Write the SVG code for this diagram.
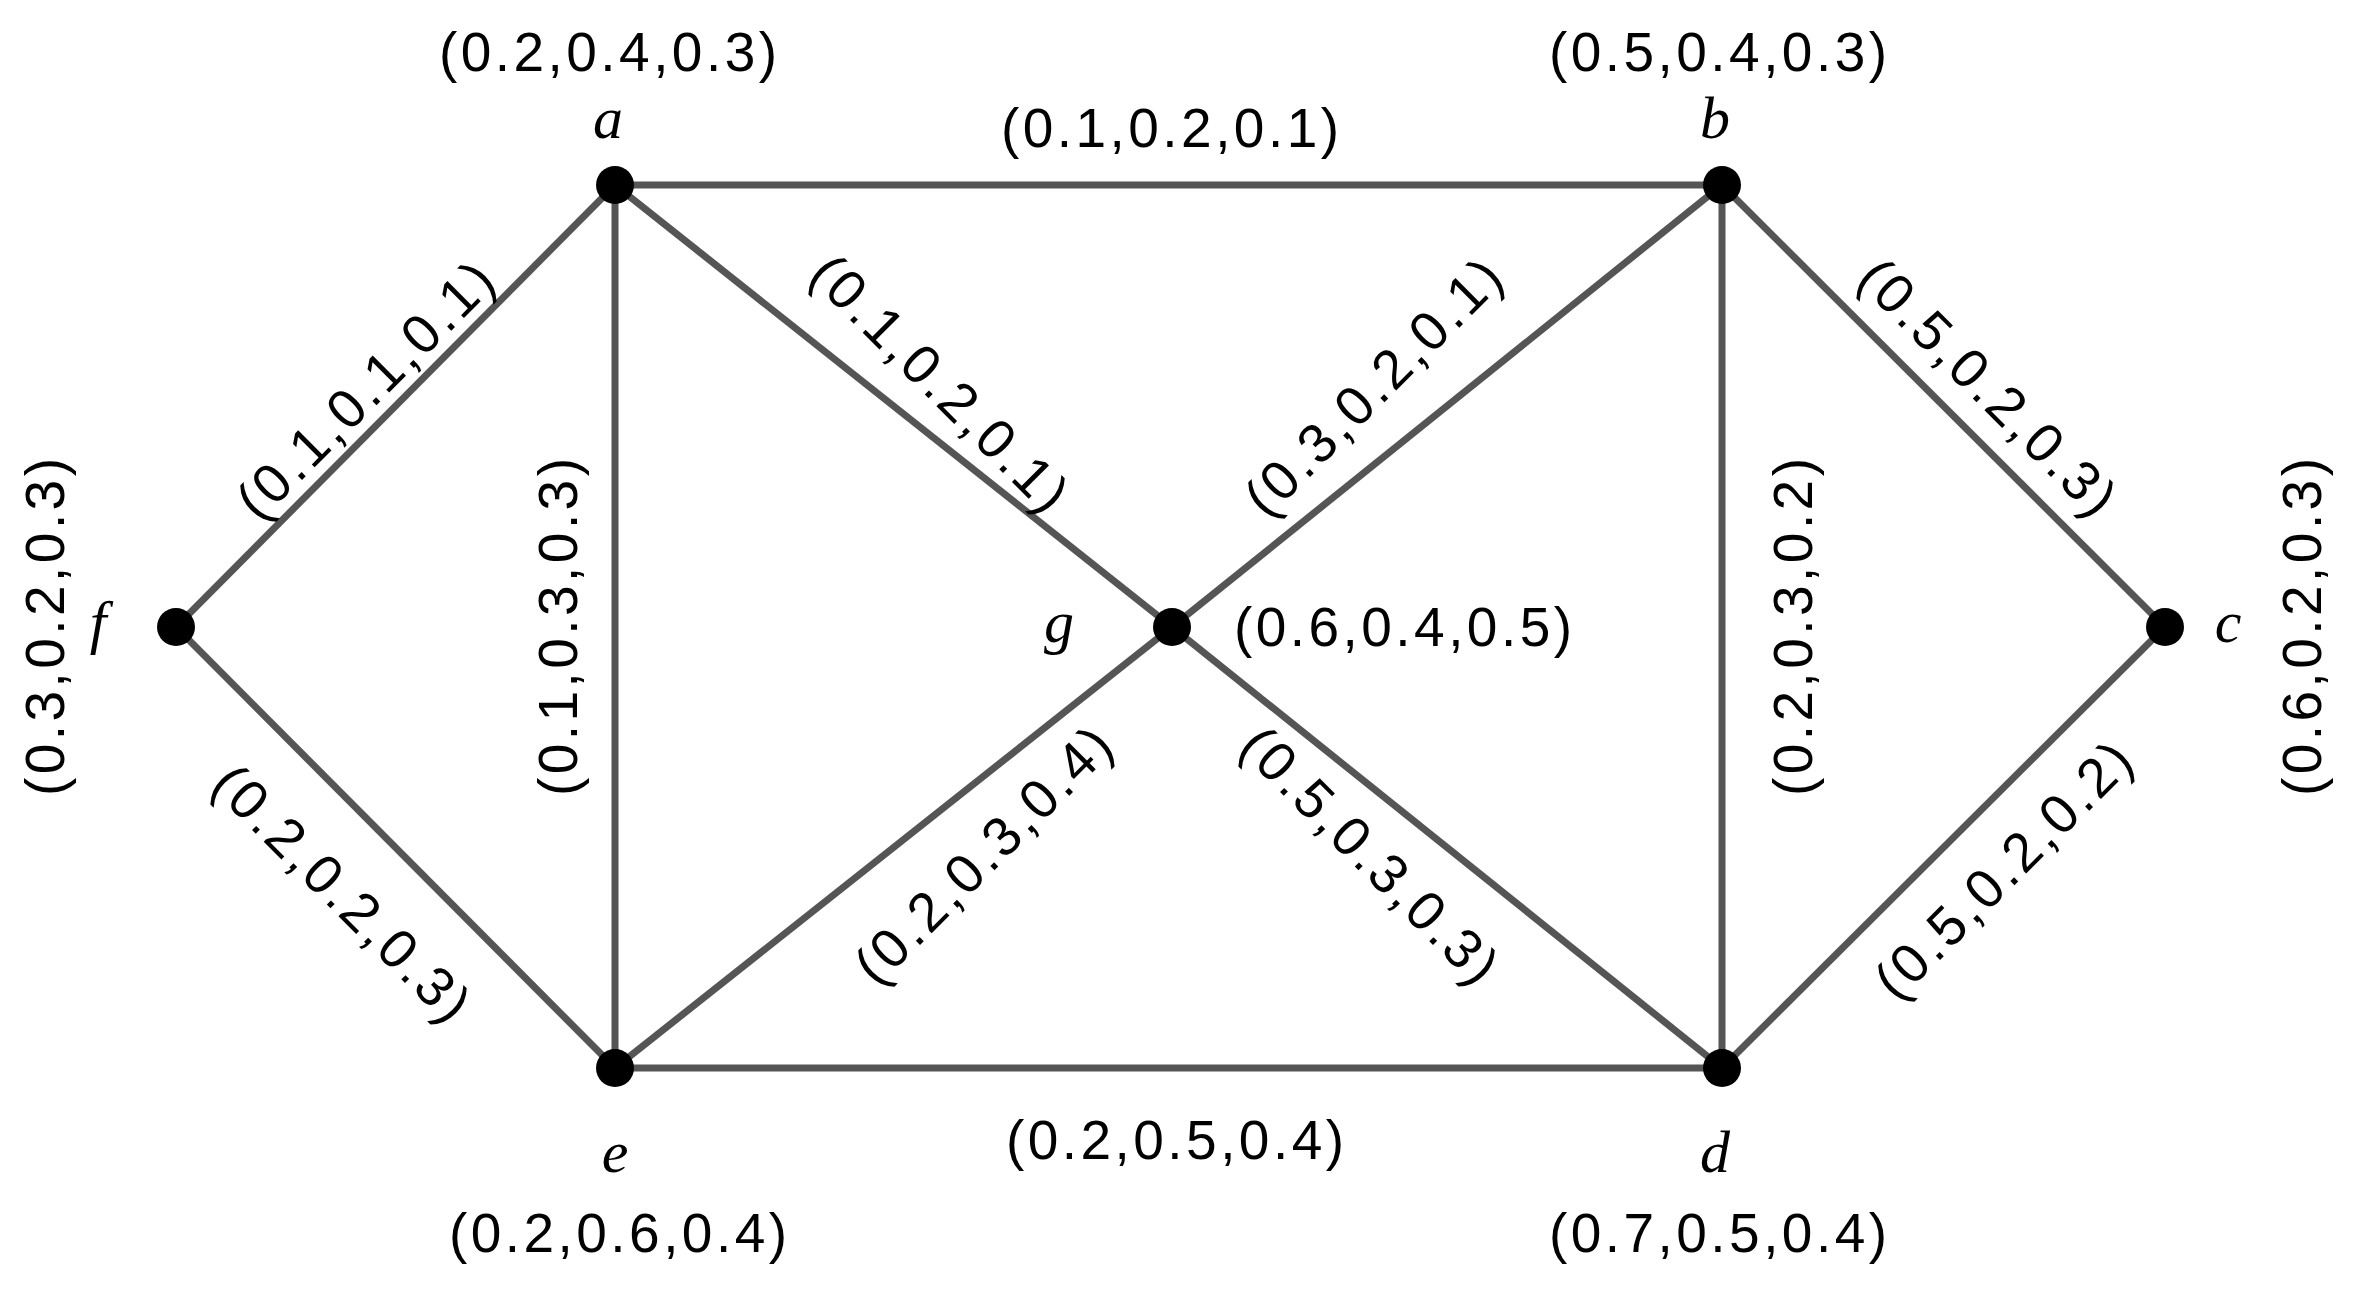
<svg xmlns="http://www.w3.org/2000/svg" width="2354" height="1292" viewBox="0 0 2354 1292">
<style>
.e{stroke:#555;stroke-width:7;fill:none}
.n{fill:#000}
.t{font-family:"Liberation Sans",Arial,sans-serif;font-size:55px;fill:#000;text-anchor:middle;dominant-baseline:central}
.v{font-family:"Liberation Serif","Times New Roman",serif;font-style:italic;font-size:60px;fill:#000;text-anchor:middle;dominant-baseline:central}
</style>
<rect width="2354" height="1292" fill="#fff"/>
<g id="edges">
<line class="e" x1="615" y1="185" x2="1722" y2="185"/>
<line class="e" x1="615" y1="185" x2="176" y2="627"/>
<line class="e" x1="176" y1="627" x2="615" y2="1068"/>
<line class="e" x1="615" y1="185" x2="615" y2="1068"/>
<line class="e" x1="615" y1="185" x2="1172" y2="627"/>
<line class="e" x1="1172" y1="627" x2="1722" y2="185"/>
<line class="e" x1="1172" y1="627" x2="615" y2="1068"/>
<line class="e" x1="1172" y1="627" x2="1722" y2="1068"/>
<line class="e" x1="1722" y1="185" x2="1722" y2="1068"/>
<line class="e" x1="1722" y1="185" x2="2165" y2="627"/>
<line class="e" x1="2165" y1="627" x2="1722" y2="1068"/>
<line class="e" x1="615" y1="1068" x2="1722" y2="1068"/>
<text class="t" x="1170" y="128" textLength="338">(0.1,0.2,0.1)</text>
<text class="t" transform="translate(365,390) rotate(-45)" textLength="338">(0.1,0.1,0.1)</text>
<text class="t" transform="translate(342,893) rotate(45)" textLength="338">(0.2,0.2,0.3)</text>
<text class="t" transform="translate(558,627) rotate(-90)" textLength="338">(0.1,0.3,0.3)</text>
<text class="t" transform="translate(940,383) rotate(45)" textLength="338">(0.1,0.2,0.1)</text>
<text class="t" transform="translate(1373,387) rotate(-45)" textLength="338">(0.3,0.2,0.1)</text>
<text class="t" transform="translate(983,855) rotate(-45)" textLength="338">(0.2,0.3,0.4)</text>
<text class="t" transform="translate(1370,855) rotate(45)" textLength="338">(0.5,0.3,0.3)</text>
<text class="t" transform="translate(1793,627) rotate(-90)" textLength="338">(0.2,0.3,0.2)</text>
<text class="t" transform="translate(1988,387) rotate(45)" textLength="338">(0.5,0.2,0.3)</text>
<text class="t" transform="translate(2003,870) rotate(-45)" textLength="338">(0.5,0.2,0.2)</text>
<text class="t" x="1175" y="1140" textLength="338">(0.2,0.5,0.4)</text>
</g>
<g id="a"><circle class="n" cx="615" cy="185" r="19"/><text class="v" x="608" y="118">a</text><text class="t" x="608" y="52" textLength="338">(0.2,0.4,0.3)</text></g>
<g id="b"><circle class="n" cx="1722" cy="185" r="19"/><text class="v" x="1715" y="118">b</text><text class="t" x="1718" y="52" textLength="338">(0.5,0.4,0.3)</text></g>
<g id="c"><circle class="n" cx="2165" cy="627" r="19"/><text class="v" x="2228" y="622">c</text><text class="t" transform="translate(2302,627) rotate(-90)" textLength="338">(0.6,0.2,0.3)</text></g>
<g id="d"><circle class="n" cx="1722" cy="1068" r="19"/><text class="v" x="1715" y="1152">d</text><text class="t" x="1718" y="1233" textLength="338">(0.7,0.5,0.4)</text></g>
<g id="e"><circle class="n" cx="615" cy="1068" r="19"/><text class="v" x="615" y="1152">e</text><text class="t" x="618" y="1233" textLength="338">(0.2,0.6,0.4)</text></g>
<g id="f"><circle class="n" cx="176" cy="627" r="19"/><text class="v" x="98" y="622">f</text><text class="t" transform="translate(45,627) rotate(-90)" textLength="338">(0.3,0.2,0.3)</text></g>
<g id="g"><circle class="n" cx="1172" cy="627" r="19"/><text class="v" x="1059" y="622">g</text><text class="t" x="1403" y="627" textLength="338">(0.6,0.4,0.5)</text></g>
</svg>
